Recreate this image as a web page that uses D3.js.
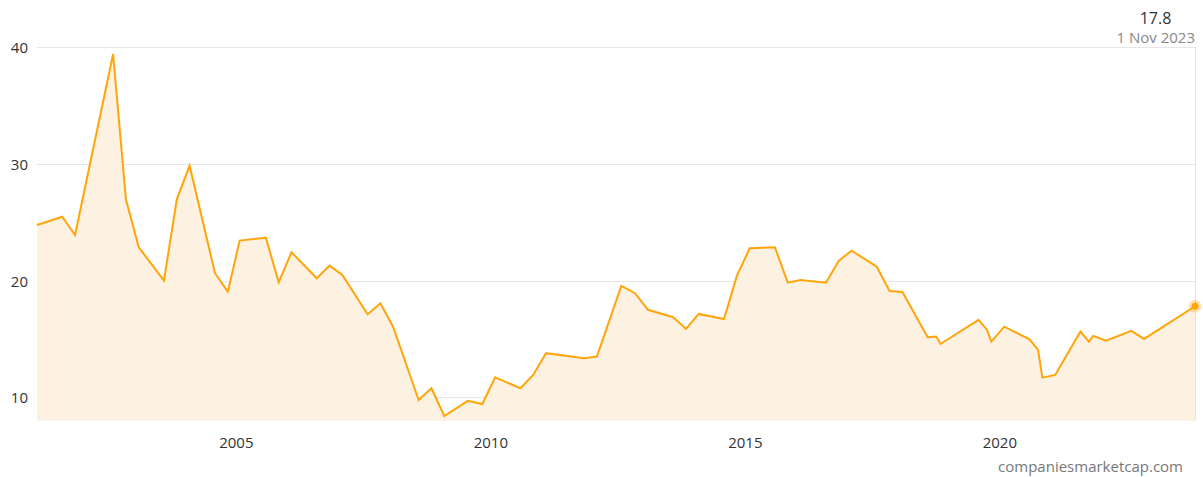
<!DOCTYPE html>
<html>
<head>
<meta charset="utf-8">
<script src="https://cdn.jsdelivr.net/npm/d3@7"></script>
<style>
  body { margin: 0; background: #fff; }
  svg text { font-family: "Open Sans", "Noto Sans", sans-serif; }
</style>
</head>
<body>
<script>
// P/E ratio history
const dates = [
  "2001-02-01","2001-08-01","2001-11-01","2002-08-01","2002-11-01",
  "2003-02-01","2003-08-01","2003-11-01","2004-02-01","2004-08-01","2004-11-01",
  "2005-01-25","2005-08-01","2005-11-01","2006-02-01","2006-08-01","2006-11-01",
  "2007-02-01","2007-08-01","2007-11-01","2008-02-01","2008-08-01","2008-11-01",
  "2009-02-01","2009-07-20","2009-11-01","2010-02-01","2010-08-01","2010-11-01",
  "2011-02-01","2011-11-01","2012-02-01","2012-07-25","2012-11-01",
  "2013-02-01","2013-08-01","2013-11-01","2014-02-01","2014-08-01","2014-11-01",
  "2015-02-01","2015-08-01","2015-11-01","2016-02-01","2016-08-01","2016-11-01",
  "2017-02-01","2017-08-01","2017-11-01","2018-02-01","2018-08-01","2018-10-01",
  "2018-11-01","2019-08-01","2019-10-01","2019-11-01","2020-02-01","2020-08-01",
  "2020-10-01","2020-11-01","2021-02-01","2021-08-01","2021-10-01","2021-11-01",
  "2022-02-01","2022-08-01","2022-11-01","2023-11-01"
];
const values = [
  24.76, 25.47, 23.9, 39.4, 26.96,
  22.85, 20.0, 26.96, 29.84, 20.63, 19.05,
  23.42, 23.67, 19.85, 22.42, 20.2, 21.28,
  20.48, 17.11, 18.05, 16.0, 9.77, 10.78,
  8.4, 9.7, 9.43, 11.72, 10.78, 11.92,
  13.78, 13.35, 13.5, 19.54, 18.92,
  17.5, 16.86, 15.86, 17.14, 16.71, 20.4,
  22.76, 22.85, 19.82, 20.05, 19.82, 21.68,
  22.56, 21.19, 19.11, 19.02, 15.14, 15.2,
  14.57, 16.63, 15.77, 14.77, 16.05, 14.97,
  14.06, 11.69, 11.92, 15.63, 14.77, 15.26,
  14.86, 15.69, 15.0, 17.8
];
const yTicks = [10, 20, 30, 40];
const xTickYears = [2005, 2010, 2015, 2020];
const lastLabel = "1 Nov 2023";

const W = 1203, H = 477;
const LEFT = 37, RIGHT = 1195, TOP = 47, BOTTOM = 420.7;

const parse = d3.timeParse("%Y-%m-%d");
const data = dates.map((d, i) => ({ date: parse(d), value: values[i] }));

const x = d3.scaleTime()
  .domain([parse("2001-02-01"), parse("2023-11-01")])
  .range([LEFT, RIGHT]);
const y = d3.scaleLinear()
  .domain([8, 40])
  .range([BOTTOM, TOP]);

const svg = d3.select("body").append("svg")
  .attr("width", W)
  .attr("height", H);

// Gridlines
svg.append("g")
  .selectAll("line")
  .data(yTicks)
  .join("line")
    .attr("x1", LEFT)
    .attr("x2", RIGHT)
    .attr("y1", d => Math.round(y(d)) + 0.5)
    .attr("y2", d => Math.round(y(d)) + 0.5)
    .attr("stroke", "#e6e6e6")
    .attr("stroke-width", 1);

// Right border
svg.append("line")
  .attr("x1", RIGHT + 0.5).attr("x2", RIGHT + 0.5)
  .attr("y1", TOP).attr("y2", BOTTOM)
  .attr("stroke", "#e6e6e6");

// Area + line
const area = d3.area()
  .x(d => x(d.date))
  .y0(BOTTOM)
  .y1(d => y(d.value));
const line = d3.line()
  .x(d => x(d.date))
  .y(d => y(d.value));

svg.append("path")
  .datum(data)
  .attr("d", area)
  .attr("fill", "#fdf1e2");

svg.append("path")
  .datum(data)
  .attr("d", line)
  .attr("fill", "none")
  .attr("stroke", "#ffa50a")
  .attr("stroke-width", 2)
  .attr("stroke-linejoin", "miter");

// Y axis labels
svg.append("g")
  .selectAll("text")
  .data(yTicks)
  .join("text")
    .attr("x", 28)
    .attr("y", d => y(d))
    .attr("text-anchor", "end")
    .attr("dominant-baseline", "central")
    .attr("font-size", 15)
    .attr("fill", "#333")
    .text(d => d);

// X axis labels
svg.append("g")
  .selectAll("text")
  .data(xTickYears)
  .join("text")
    .attr("x", d => x(new Date(d, 0, 1)))
    .attr("y", 448)
    .attr("text-anchor", "middle")
    .attr("font-size", 15)
    .attr("fill", "#333")
    .text(d => d);

// Last point marker
const last = data[data.length - 1];
svg.append("circle")
  .attr("cx", x(last.date))
  .attr("cy", y(last.value))
  .attr("r", 6.5)
  .attr("fill", "#ffa500")
  .attr("fill-opacity", 0.3);
svg.append("circle")
  .attr("cx", x(last.date))
  .attr("cy", y(last.value))
  .attr("r", 3.5)
  .attr("fill", "#ffa500");

// Top-right value + date
svg.append("text")
  .attr("x", 1155.5)
  .attr("y", 24)
  .attr("text-anchor", "middle")
  .attr("font-size", 16)
  .attr("fill", "#333")
  .text(d3.format(".1f")(last.value));
svg.append("text")
  .attr("x", RIGHT)
  .attr("y", 43)
  .attr("text-anchor", "end")
  .attr("font-size", 15)
  .attr("fill", "#888")
  .text(lastLabel);

// Watermark
svg.append("text")
  .attr("x", 1183)
  .attr("y", 472)
  .attr("text-anchor", "end")
  .attr("font-size", 15)
  .attr("fill", "#777")
  .text("companiesmarketcap.com");
</script>
</body>
</html>
